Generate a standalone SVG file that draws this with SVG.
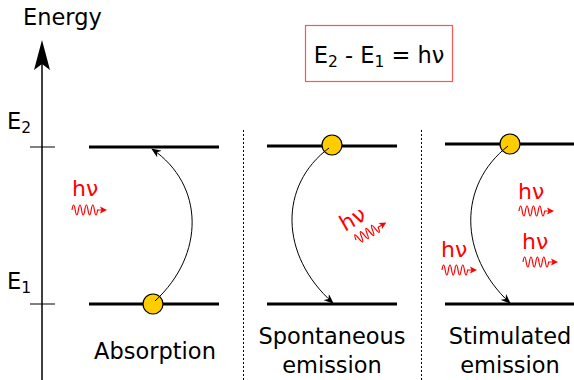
<svg xmlns="http://www.w3.org/2000/svg" width="574" height="380" viewBox="0 0 574 380">
<defs>
<style>
.t{font-family:"DejaVu Sans",sans-serif;font-size:22.5px;fill:#000}
.r{font-family:"DejaVu Sans",sans-serif;font-size:22px;fill:#ff0000}
.lvl{stroke:#000;stroke-width:3;fill:none}
.sep{stroke:#000;stroke-width:1;stroke-dasharray:2,2;fill:none}
.tr{stroke:#000;stroke-width:1;fill:none;marker-end:url(#ah)}
.atom{fill:#ffcc00;stroke:#000;stroke-width:1.2}
.wave{stroke:#ff0000;stroke-width:1.2;fill:none}
</style>
<marker id="ah" viewBox="0 0 10 8" refX="9" refY="4" markerWidth="10" markerHeight="8" markerUnits="userSpaceOnUse" orient="auto">
<path d="M0,0 L10,4 L0,8 L3,4 z" fill="#000"/>
</marker>
<g id="photon">
<path class="wave" d="M0,0 q1.6,-10 3.2,0 t3.2,0 t3.2,0 t3.2,0 t3.2,0 t3.2,0 t3.2,0 t3.2,0 L30,0"/>
<path d="M28,-3.5 L35,0 L28,3.5 L29.5,0 z" fill="#ff0000"/>
</g>
</defs>
<rect width="574" height="380" fill="#fff"/>
<g id="axis">
<line x1="42" y1="60" x2="42" y2="380" stroke="#000" stroke-width="1.5"/>
<path d="M42,40 L50,70 L42,64 L34,70 z" fill="#000"/>
<line x1="30" y1="147" x2="55" y2="147" stroke="#000" stroke-width="1"/>
<line x1="30" y1="304" x2="55" y2="304" stroke="#000" stroke-width="1"/>
<text class="t" x="23" y="25">Energy</text>
<text class="t" x="7" y="129">E<tspan font-size="15.5" dy="4">2</tspan></text>
<text class="t" x="7" y="289">E<tspan font-size="15.5" dy="4">1</tspan></text>
</g>
<g id="formula">
<rect x="305.5" y="25.5" width="147" height="56" fill="none" stroke="#ff5555" stroke-width="1.2"/>
<text class="t" x="379" y="63" text-anchor="middle">E<tspan font-size="15.5" dy="4">2</tspan><tspan dy="-4"> - E</tspan><tspan font-size="15.5" dy="4">1</tspan><tspan dy="-4"> = hν</tspan></text>
</g>
<g id="separators">
<line class="sep" x1="243.5" y1="130" x2="243.5" y2="380"/>
<line class="sep" x1="421.5" y1="130" x2="421.5" y2="380"/>
</g>
<g id="absorption">
<line class="lvl" x1="89" y1="147" x2="219" y2="147"/>
<line class="lvl" x1="89" y1="304" x2="219" y2="304"/>
<circle class="atom" cx="153" cy="304" r="10"/>
<text class="r" x="72" y="196">hν</text>
<use href="#photon" x="72" y="210"/>
<text class="t" x="155" y="359" text-anchor="middle">Absorption</text>
</g>
<g id="spontaneous">
<line class="lvl" x1="267" y1="146" x2="397" y2="146"/>
<line class="lvl" x1="267" y1="304" x2="397" y2="304"/>
<circle class="atom" cx="332" cy="145" r="10"/>
<text class="r" transform="translate(345,232) rotate(-30)">hν</text>
<use href="#photon" transform="translate(356,240) rotate(-30)"/>
<text class="t" x="332" y="344" text-anchor="middle">Spontaneous</text>
<text class="t" x="332" y="373" text-anchor="middle">emission</text>
</g>
<g id="stimulated">
<line class="lvl" x1="445" y1="144" x2="574" y2="144"/>
<line class="lvl" x1="445" y1="304" x2="574" y2="304"/>
<circle class="atom" cx="510" cy="144" r="10"/>
<text class="r" x="441" y="257">hν</text>
<use href="#photon" x="442" y="270"/>
<text class="r" x="518" y="199">hν</text>
<use href="#photon" x="519" y="211"/>
<text class="r" x="522" y="249">hν</text>
<use href="#photon" x="523" y="262"/>
<text class="t" x="510" y="344" text-anchor="middle">Stimulated</text>
<text class="t" x="510" y="373" text-anchor="middle">emission</text>
</g>
<g id="connectors">
<path class="tr" d="M155,301 C205,255 205,185 152,149"/>
<path class="tr" d="M329,148 C279,185 279,255 333,303"/>
<path class="tr" d="M508,146 C458,185 458,255 510,303"/>
</g>
</svg>
